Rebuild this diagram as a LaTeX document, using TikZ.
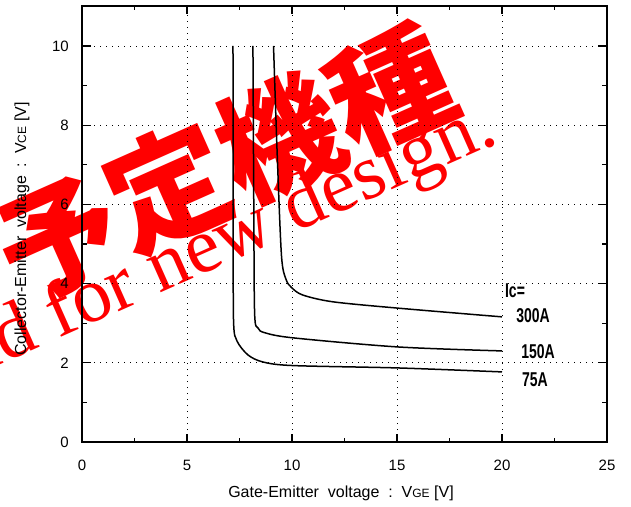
\documentclass[tikz,border=0pt]{standalone}
\usepackage{fontspec}
\usetikzlibrary{calc}
\setmainfont{Liberation Sans}
\newfontfamily\serifwm{Liberation Serif}
\newfontfamily\cjk{Noto Sans CJK JP}[UprightFont=* Black]
\tikzset{
  curve/.style={line width=1.5pt, line join=round},
  griddot/.style={line width=0.7pt, dash pattern=on 1pt off 5pt},
  tick/.style={line width=1.2pt},
  ticklbl/.style={font=\fontsize{15}{17}\selectfont, inner sep=0pt},
  axtitle/.style={font=\fontsize{16}{18}\selectfont, inner sep=0pt},
  icbl/.style={font=\fontsize{20}{22}\selectfont\bfseries, inner sep=0pt}
}
\newcommand{\narrow}[1]{\scalebox{0.7}[1]{#1}}
\newcommand{\smallsub}[1]{{\fontsize{12}{13}\selectfont #1}}
\begin{document}
\begin{tikzpicture}[x=1pt, y=1pt]
  \useasboundingbox (0,0) rectangle (631,506);
  % watermark
  \node[red, font=\cjk\fontsize{121}{123}\selectfont, rotate=24, inner sep=0pt]
    (wmjp) at (224,343) {予定機種};
  \node[red, font=\serifwm\fontsize{78}{80}\selectfont, rotate=24, inner sep=0pt,
    anchor=base east] (wmen) at (500,364) {nd for new design.};
  % plot area
  \begin{scope}[shift={(82,64)}, x=21pt, y=39.6pt]
    \foreach \i in {5,10,15,20}
      \draw[griddot] (\i,0) -- (\i,11);
    \foreach \i in {2,4,...,10}
      \draw[griddot] (0,\i) -- (25,\i);
    % ticks
    \foreach \i in {5,10,15,20}
      {
        \draw[tick] (\i,0) -- ++(0,8pt);
        \draw[tick] (\i,11) -- ++(0,-8pt);
      }
    \foreach \i in {2.5,7.5,...,22.5}
      {
        \draw[tick] (\i,0) -- ++(0,4pt);
        \draw[tick] (\i,11) -- ++(0,-4pt);
      }
    \foreach \i in {2,4,...,10}
      {
        \draw[tick] (0,\i) -- ++(9pt,0);
        \draw[tick] (25,\i) -- ++(-9pt,0);
      }
    \foreach \i in {1,3,...,9}
      {
        \draw[tick] (0,\i) -- ++(5pt,0);
        \draw[tick] (25,\i) -- ++(-5pt,0);
      }
    \draw[line width=1.8pt] (0,0) rectangle (25,11);
    % tick labels
    \foreach \i in {0,2,...,10}
      \node[ticklbl, anchor=east] (yl\i) at ($(0,\i)+(-13pt,0)$) {\i};
    \foreach \i in {0,5,...,25}
      \node[ticklbl] (xl\i) at ($(\i,0)+(0,-23pt)$) {\i};
    % Ic curves
    \draw[curve] plot[smooth, tension=0.5] coordinates {(7.19,10) (7.2,5) (7.22,3.0)
      (7.38,2.55) (7.9,2.2) (8.62,2.02) (10.05,1.93) (15.05,1.87) (20,1.77)};
    \draw[curve] plot[smooth, tension=0.5] coordinates {(8.14,10) (8.18,6) (8.22,3.25)
      (8.38,2.88) (8.7,2.76) (10.05,2.63) (15.05,2.4) (20,2.3)};
    \draw[curve] plot[smooth, tension=0.5] coordinates {(9.12,10) (9.3,7.2) (9.5,4.7)
      (9.72,4.1) (10,3.89) (10.52,3.71) (11.95,3.54) (15.05,3.38) (20,3.16)};
  \end{scope}
  % curve labels
  \node[icbl] (ic) at (515,215) {\narrow{Ic=}};
  \node[icbl] (i300) at (533,190) {\narrow{300A}};
  \node[icbl] (i150) at (538,154) {\narrow{150A}};
  \node[icbl] (i75) at (535,126) {\narrow{75A}};
  % axis titles
  \node[axtitle] (xtitle) at (341,13) {Gate-Emitter\ \ voltage\ \ :\ \ V\smallsub{GE} [V]};
  \node[axtitle, rotate=90] (ytitle) at (22,277) {Collector-Emitter\ \ voltage\ \ :\ \ V\smallsub{CE} [V]};
\end{tikzpicture}
\end{document}
